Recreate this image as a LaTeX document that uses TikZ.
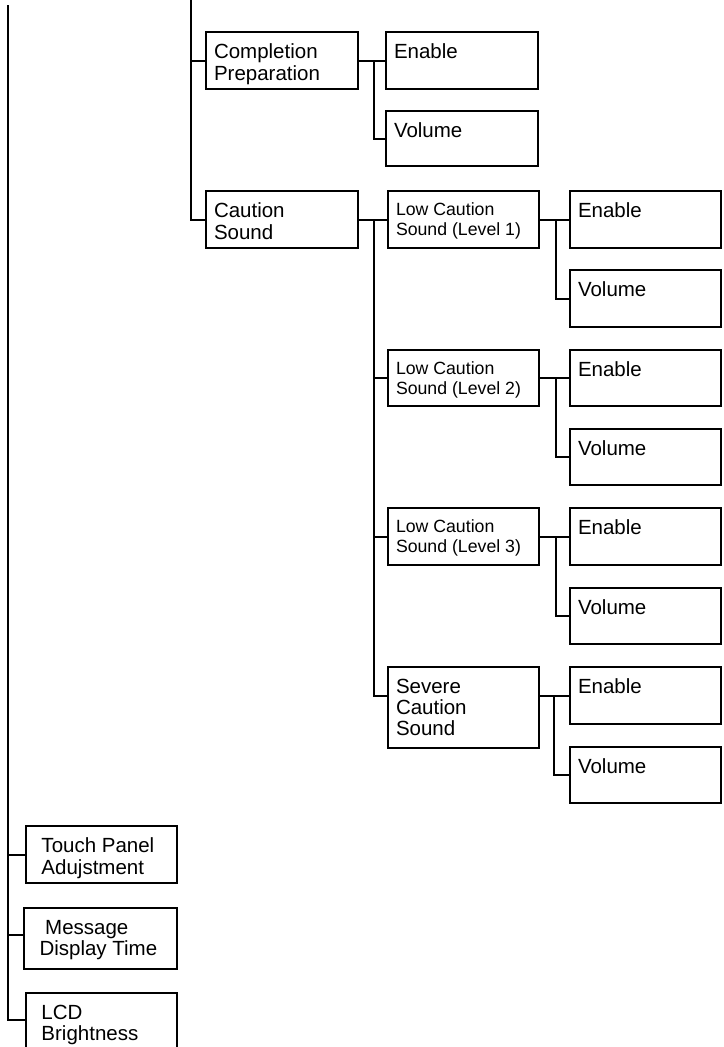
\documentclass[tikz,border=0pt]{standalone}
\usepackage{fontspec}
\setmainfont{Liberation Sans}
\begin{document}
\begin{tikzpicture}[x=1pt,y=-1pt,
  line width=2pt,
  box/.style={draw, line width=2pt, anchor=north west, inner sep=0pt,
    minimum width=152pt, minimum height=57pt},
  big/.style={font=\fontsize{20.5}{21.3}\selectfont},
  small/.style={font=\fontsize{17.7}{20}\selectfont},
  lbl/.style={anchor=north west, inner sep=0pt, align=left, xshift=8pt, yshift=-12pt},
  lblw/.style={anchor=north west, inner sep=0pt, align=left, xshift=15.5pt, yshift=-12pt},
  tb/.style={label={[lbl,big]north west:{#1}}},
  ts/.style={label={[lbl,small]north west:{#1}}},
  tw/.style={label={[lblw,big]north west:{#1}}},
  wire/.style={draw, line width=2pt, line cap=rect},
  mainwire/.style={draw, line width=1.7pt}]
\useasboundingbox (0,0) rectangle (723,1047);
\clip (0,0) rectangle (723,1047);

% level 2 boxes
\node (cp) [box, tb={Completion\\Preparation}] at (205,31) {};
\node (cs) [box, tb={Caution\\Sound}] at (205,190) {};
% completion children
\node (en0) [box, minimum height=57pt, tb={Enable}] at (385,31) {};
\node (vo0) [box, minimum height=55pt, tb={Volume}] at (385,110) {};
% caution children
\node (l1) [box, minimum width=151pt, ts={Low Caution\\Sound (Level 1)}] at (387,190) {};
\node (l2) [box, minimum width=151pt, minimum height=56pt, ts={Low Caution\\Sound (Level 2)}] at (387,349) {};
\node (l3) [box, minimum width=151pt, ts={Low Caution\\Sound (Level 3)}] at (387,507) {};
\node (sv) [box, minimum width=151pt, minimum height=81pt, tb={Severe\\Caution\\Sound}] at (387,666) {};
% enable/volume
\node (en1) [box, minimum width=151pt, tb={Enable}] at (569,190) {};
\node (vo1) [box, minimum width=151pt, tb={Volume}] at (569,269) {};
\node (en2) [box, minimum width=151pt, minimum height=56pt, tb={Enable}] at (569,349) {};
\node (vo2) [box, minimum width=151pt, minimum height=56pt, tb={Volume}] at (569,428) {};
\node (en3) [box, minimum width=151pt, tb={Enable}] at (569,507) {};
\node (vo3) [box, minimum width=151pt, minimum height=56pt, tb={Volume}] at (569,587) {};
\node (en4) [box, minimum width=151pt, tb={Enable}] at (569,666) {};
\node (vo4) [box, minimum width=151pt, minimum height=56pt, tb={Volume}] at (569,746) {};
% bottom boxes
\node (tp) [box, minimum width=151pt, tw={Touch Panel\\Adujstment}] at (25,825) {};
\node (md) [box, minimum width=153pt, minimum height=61pt, tw={\ Message\\Display Time}] at (23,907) {};
\node (lcd) [box, minimum width=151pt, minimum height=70pt, tw={LCD\\Brightness}] at (25,992) {};

% coordinates
\coordinate (top2) at (191,0);
\path (cs.west) ++(-14,0) coordinate (bot2);
\coordinate (top1) at (8,5);
\path (lcd.west) ++(-17,-8.5) coordinate (bot1);
\path (cp.east) ++(15,0) coordinate (b0);
\path (cs.east) ++(15,0) coordinate (b1);
\path (l1.east) ++(16,0) coordinate (c1);
\path (l2.east) ++(16,0) coordinate (c2);
\path (l3.east) ++(16,0) coordinate (c3);
\path (en4.west) ++(-15,0) coordinate (c4);

% main wires
\draw[mainwire] (top1) -- (bot1);
\draw[wire] (top1 |- tp.west) -- (tp.west);
\draw[wire] (top1 |- md.west) ++(0,-4) -- ([yshift=4pt]md.west);
\draw[wire] (bot1) -- (bot1 -| lcd.west);

\draw[wire] (top2) -- (bot2);
\draw[wire] (top2 |- cp.west) -- (cp.west);
\draw[wire] (bot2) -- (cs.west);

% completion
\draw[wire] (cp.east) -- (en0.west);
\draw[wire] (b0) |- (vo0.west);

% caution bus
\draw[wire] (cs.east) -- (l1.west);
\draw[wire] (b1) |- (l2.west);
\draw[wire] (b1) |- (l3.west);
\draw[wire] (b1) |- (sv.west |- c4);

% level children
\draw[wire] (l1.east) -- (en1.west);
\draw[wire] (c1) |- (vo1.west);
\draw[wire] (l2.east) -- (en2.west);
\draw[wire] (c2) |- (vo2.west);
\draw[wire] (l3.east) -- (en3.west);
\draw[wire] (c3) |- (vo3.west);
\draw[wire] (sv.east |- c4) -- (en4.west);
\draw[wire] (c4) |- (vo4.west);
\end{tikzpicture}
\end{document}
